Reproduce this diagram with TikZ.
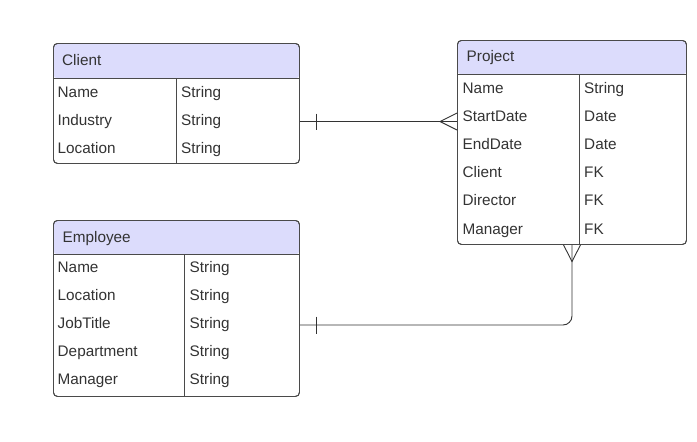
\documentclass[tikz,border=0pt]{standalone}
\usepackage{fontspec}
\setmainfont{Liberation Sans}
\usetikzlibrary{calc}
\definecolor{headfill}{HTML}{DCDCFC}
\definecolor{border}{HTML}{4A4A4A}
\definecolor{txt}{HTML}{333333}
\definecolor{conn}{HTML}{333333}
\tikzset{
  tbl/.style={draw=border, line width=0.9pt, rounded corners=4pt, inner sep=0pt, anchor=north west, fill=white},
  divider/.style={draw=border, line width=0.9pt},
  cell/.style={anchor=west, inner sep=0pt, text height=11pt, text depth=0pt, text=txt, font=\fontsize{15.3}{18}\selectfont},
  conline/.style={draw=conn, line width=0.9pt},
}
\begin{document}
\begin{tikzpicture}[x=1pt,y=-1pt]
\useasboundingbox (0,0) rectangle (697,442);
% ---------- Client ----------
\node[tbl, minimum width=246pt, minimum height=120pt,
  path picture={\fill[headfill] (path picture bounding box.north west) rectangle ($(path picture bounding box.north east)+(0pt,-35pt)$);}] (client) at (53,43) {};
\node[tbl, fill=none, minimum width=246pt, minimum height=120pt] at (53,43) {};
\draw[divider] (53,78) -- (299,78);
\draw[divider] (176,78) -- (176,163);
\node[cell] (clientH) at (62,60) {Client};
\node[cell] (c1) at (57.5,91.5) {Name};
\node[cell] (c2) at (57.5,119.5) {Industry};
\node[cell] (c3) at (57.5,147.5) {Location};
\node[cell] (c1t) at (181,91.5) {String};
\node[cell] (c2t) at (181,119.5) {String};
\node[cell] (c3t) at (181,147.5) {String};
% ---------- Project ----------
\node[tbl, minimum width=229pt, minimum height=204pt,
  path picture={\fill[headfill] (path picture bounding box.north west) rectangle ($(path picture bounding box.north east)+(0pt,-34pt)$);}] (project) at (457,40) {};
\node[tbl, fill=none, minimum width=229pt, minimum height=204pt] at (457,40) {};
\draw[divider] (457,74) -- (686,74);
\draw[divider] (579,74) -- (579,244);
\node[cell] (projectH) at (466.5,56) {Project};
\node[cell] (p1) at (462.5,87.5) {Name};
\node[cell] (p2) at (462.5,115.7) {StartDate};
\node[cell] (p3) at (462.5,143.9) {EndDate};
\node[cell] (p4) at (462.5,172.1) {Client};
\node[cell] (p5) at (462.5,200.3) {Director};
\node[cell] (p6) at (462.5,228.5) {Manager};
\node[cell] (p1t) at (584,87.5) {String};
\node[cell] (p2t) at (584,115.7) {Date};
\node[cell] (p3t) at (584,143.9) {Date};
\node[cell] (p4t) at (584,172.1) {FK};
\node[cell] (p5t) at (584,200.3) {FK};
\node[cell] (p6t) at (584,228.5) {FK};
% ---------- Employee ----------
\node[tbl, minimum width=246pt, minimum height=176pt,
  path picture={\fill[headfill] (path picture bounding box.north west) rectangle ($(path picture bounding box.north east)+(0pt,-34pt)$);}] (employee) at (53,220) {};
\node[tbl, fill=none, minimum width=246pt, minimum height=176pt] at (53,220) {};
\draw[divider] (53,254) -- (299,254);
\draw[divider] (184.5,254) -- (184.5,396);
\node[cell] (employeeH) at (62.5,236.5) {Employee};
\node[cell] (e1) at (57.5,267.3) {Name};
\node[cell] (e2) at (57.5,295.3) {Location};
\node[cell] (e3) at (57.5,323.3) {JobTitle};
\node[cell] (e4) at (57.5,351.3) {Department};
\node[cell] (e5) at (57.5,379.3) {Manager};
\node[cell] (e1t) at (189.5,267.3) {String};
\node[cell] (e2t) at (189.5,295.3) {String};
\node[cell] (e3t) at (189.5,323.3) {String};
\node[cell] (e4t) at (189.5,351.3) {String};
\node[cell] (e5t) at (189.5,379.3) {String};
% ---------- Connectors ----------
\coordinate (cA) at (client.east |- 0,121.5);
\coordinate (pA) at (project.west |- 0,121.5);
\coordinate (crowA) at (440,121.5);
\draw[conline] (cA) -- (pA);
\draw[conline] (316.7,113.5) -- (316.7,129.5);
\draw[conline] ($(pA)+(0,-8.5)$) -- (crowA) -- ($(pA)+(0,8.5)$);
\coordinate (eA) at (employee.east |- 0,325);
\coordinate (pB) at (project.south -| 572,0);
\coordinate (crowB) at (572,261.5);
\draw[conline, rounded corners=9pt] (eA) -- (572,325) -- (pB);
\draw[conline] (316.7,316.5) -- (316.7,333.5);
\draw[conline] ($(pB)+(-8.5,0)$) -- (crowB) -- ($(pB)+(8.5,0)$);
\end{tikzpicture}
\end{document}
